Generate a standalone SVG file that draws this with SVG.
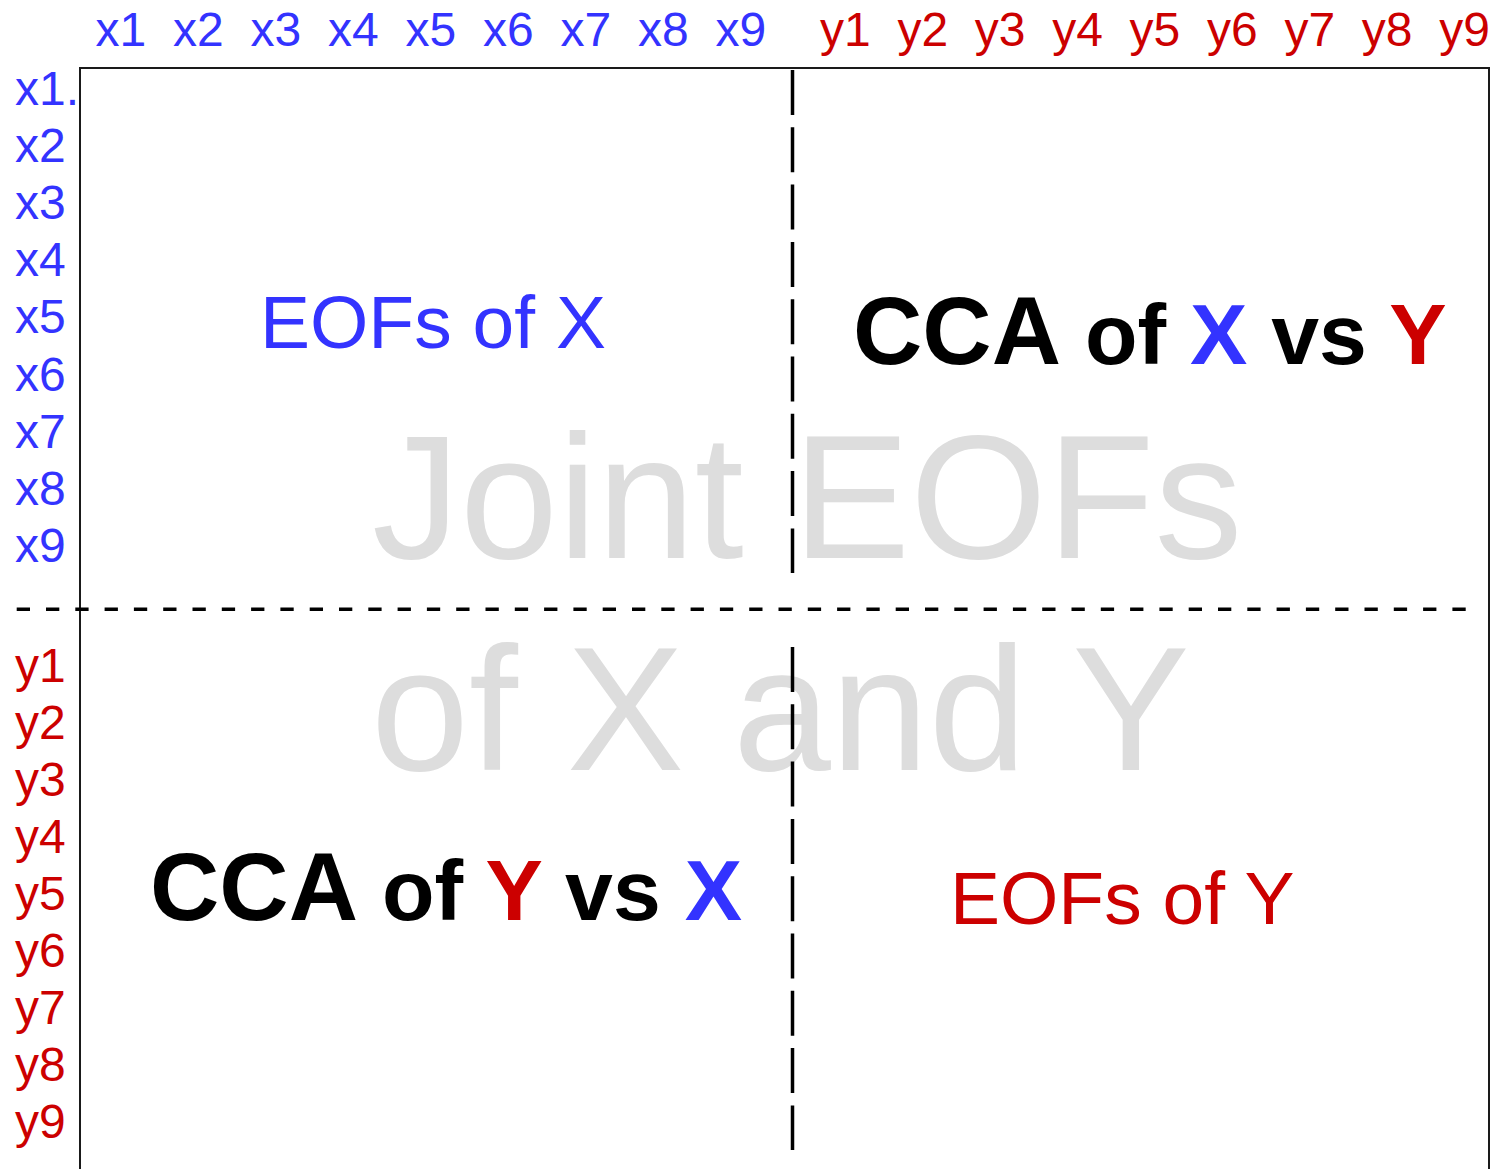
<svg xmlns="http://www.w3.org/2000/svg" width="1490" height="1169" viewBox="0 0 1490 1169">
  <style>
    text { font-family: "Liberation Sans", Arial, Helvetica, sans-serif; }
    .lbl { font-size: 48px; }
    .xc { fill: #3333ff; }
    .yc { fill: #cc0000; }
    .quad { font-size: 75px; }
    .cca { font-weight: bold; font-size: 86px; fill: #000000; }
    .big { font-size: 96px; }
    .mark { font-size: 176px; fill: #dddddd; }
    .frame { fill: none; stroke: #1a1a1a; stroke-width: 2; }
    .vdash { stroke: #000000; stroke-width: 3.5; stroke-dasharray: 45 12.3; fill: none; }
    .hdash { stroke: #000000; stroke-width: 3.5; stroke-dasharray: 13.3 16; fill: none; }
  </style>

  <rect width="1490" height="1169" fill="#ffffff"/>

  <!-- background watermark -->
  <g id="watermark">
    <text class="mark" x="372" y="558">Joint EOFs</text>
    <text class="mark" x="371" y="770">of X and Y</text>
  </g>

  <!-- matrix frame (open at the bottom) -->
  <path id="frame" class="frame" d="M80,1172 V68 H1489 V1172"/>

  <!-- block dividers -->
  <g id="connectors">
    <line class="vdash" x1="792.5" y1="70" x2="792.5" y2="573"/>
    <line class="vdash" x1="792.5" y1="647" x2="792.5" y2="1150"/>
    <line class="hdash" x1="16.7" y1="609.3" x2="1467" y2="609.3"/>
  </g>

  <!-- column labels -->
  <g id="col-labels" class="lbl">
    <text class="xc" x="95.5" y="46">x1</text>
    <text class="xc" x="173" y="46">x2</text>
    <text class="xc" x="250.5" y="46">x3</text>
    <text class="xc" x="328" y="46">x4</text>
    <text class="xc" x="405.5" y="46">x5</text>
    <text class="xc" x="483" y="46">x6</text>
    <text class="xc" x="560.5" y="46">x7</text>
    <text class="xc" x="638" y="46">x8</text>
    <text class="xc" x="715.5" y="46">x9</text>
    <text class="yc" x="820" y="46">y1</text>
    <text class="yc" x="897.4" y="46">y2</text>
    <text class="yc" x="974.8" y="46">y3</text>
    <text class="yc" x="1052.2" y="46">y4</text>
    <text class="yc" x="1129.6" y="46">y5</text>
    <text class="yc" x="1207" y="46">y6</text>
    <text class="yc" x="1284.4" y="46">y7</text>
    <text class="yc" x="1361.8" y="46">y8</text>
    <text class="yc" x="1439.2" y="46">y9</text>
  </g>

  <!-- row labels -->
  <g id="row-labels" class="lbl">
    <text class="xc" x="15" y="105">x1.</text>
    <text class="xc" x="15" y="162">x2</text>
    <text class="xc" x="15" y="219">x3</text>
    <text class="xc" x="15" y="276">x4</text>
    <text class="xc" x="15" y="333">x5</text>
    <text class="xc" x="15" y="391">x6</text>
    <text class="xc" x="15" y="448">x7</text>
    <text class="xc" x="15" y="505">x8</text>
    <text class="xc" x="15" y="562">x9</text>
    <text class="yc" x="15" y="682">y1</text>
    <text class="yc" x="15" y="739">y2</text>
    <text class="yc" x="15" y="796">y3</text>
    <text class="yc" x="15" y="853">y4</text>
    <text class="yc" x="15" y="910">y5</text>
    <text class="yc" x="15" y="967">y6</text>
    <text class="yc" x="15" y="1024">y7</text>
    <text class="yc" x="15" y="1081">y8</text>
    <text class="yc" x="15" y="1138">y9</text>
  </g>

  <!-- quadrant titles -->
  <g id="eofs-x">
    <text class="quad xc" x="260" y="348">EOFs of X</text>
  </g>
  <g id="cca-xy">
    <text class="cca" x="853" y="364"><tspan class="big">CCA</tspan> of <tspan class="xc">X</tspan> vs <tspan class="yc">Y</tspan></text>
  </g>
  <g id="cca-yx">
    <text class="cca" x="150" y="920"><tspan class="big">CCA</tspan> of <tspan class="yc">Y</tspan> vs <tspan class="xc">X</tspan></text>
  </g>
  <g id="eofs-y">
    <text class="quad yc" x="950" y="924">EOFs of Y</text>
  </g>
</svg>
